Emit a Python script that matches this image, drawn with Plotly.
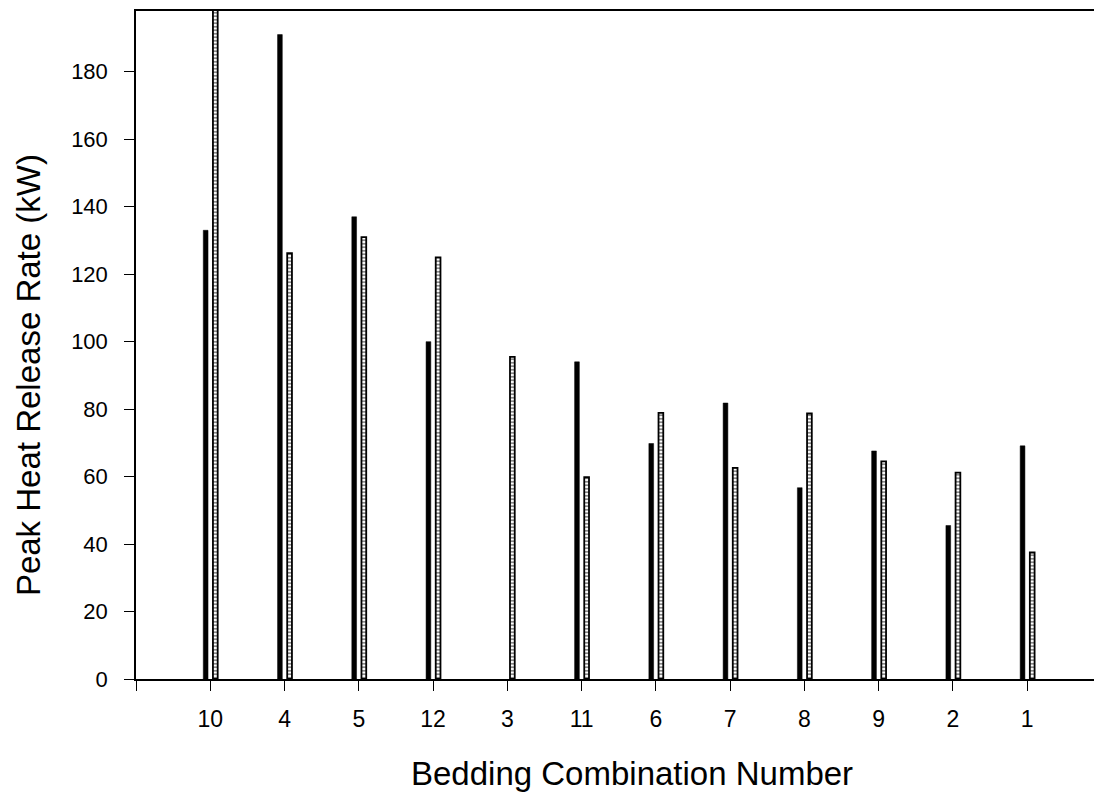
import plotly.graph_objects as go

categories = ["10", "4", "5", "12", "3", "11", "6", "7", "8", "9", "2", "1"]
series_black = [133, 191, 137, 100, None, 94, 69.8, 81.8, 56.7, 67.6, 45.5, 69.1]
series_gray = [205, 126.2, 131, 125, 95.5, 59.8, 78.9, 62.6, 78.7, 64.5, 61.2, 37.5]
y_ticks = [0, 20, 40, 60, 80, 100, 120, 140, 160, 180]

xpos = list(range(len(categories)))
FONT = "Liberation Sans, Arial, sans-serif"

fig = go.Figure()
fig.add_trace(go.Bar(
    x=xpos, y=series_black, width=0.064, offset=-0.094,
    marker=dict(color="black", line=dict(color="black", width=0.5)),
    showlegend=False,
))
fig.add_trace(go.Bar(
    x=xpos, y=series_gray, width=0.064, offset=0.036,
    marker=dict(color="white", line=dict(color="#000", width=1.8),
                pattern=dict(shape="-", fgcolor="#111", bgcolor="white", size=3.5, solidity=0.5)),
    showlegend=False,
))

fig.update_layout(
    width=1094, height=797,
    margin=dict(l=136, r=0, t=11, b=118),
    plot_bgcolor="white", paper_bgcolor="white",
    barmode="overlay",
    font=dict(family=FONT, color="black"),
    xaxis=dict(
        range=[-1, 11.9], tickmode="array",
        tickvals=[-1] + xpos, ticktext=[""] + categories,
        showline=True, linecolor="black", linewidth=1.5, mirror=True,
        ticks="outside", ticklen=10, tickcolor="black", tickwidth=1.2,
        showgrid=False, zeroline=False,
        tickfont=dict(size=23, family=FONT, color="black"),
        ticklabelstandoff=9,
    ),
    yaxis=dict(
        range=[0, 198], tickmode="array", tickvals=y_ticks,
        showline=True, linecolor="black", linewidth=1.5,
        ticks="outside", ticklen=10, tickcolor="black", tickwidth=1.2,
        showgrid=False, zeroline=False,
        tickfont=dict(size=22, family=FONT, color="black"),
        ticklabelstandoff=12,
    ),
    annotations=[
        dict(text="Bedding Combination Number", xref="paper", yref="paper",
             x=0.518, y=-0.141, xanchor="center", yanchor="middle",
             showarrow=False, font=dict(size=33, family=FONT, color="black")),
        dict(text="Peak Heat Release Rate (kW)", xref="paper", yref="paper",
             x=-0.1127, y=0.455, xanchor="center", yanchor="middle", textangle=-90,
             showarrow=False, font=dict(size=33, family=FONT, color="black")),
    ],
)

fig.write_html("out.html")
